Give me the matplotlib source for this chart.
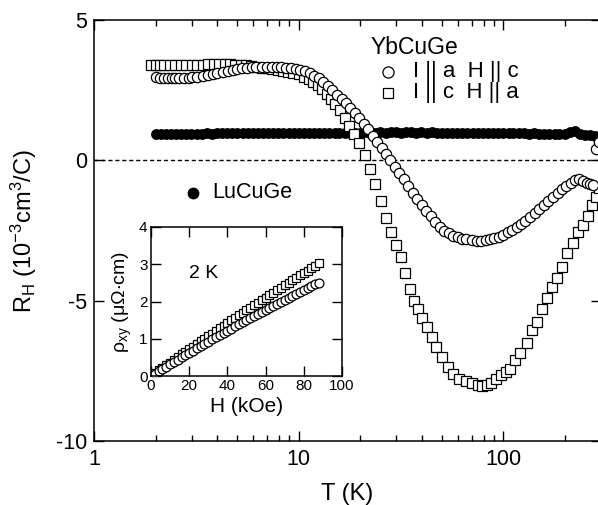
import matplotlib
matplotlib.use("Agg")
import matplotlib.pyplot as plt

plt.rcParams["font.family"] = ["Liberation Sans", "DejaVu Sans"]
plt.rcParams["mathtext.fontset"] = "custom"
plt.rcParams["mathtext.rm"] = "Liberation Sans"
plt.rcParams["mathtext.default"] = "regular"
plt.rcParams["axes.unicode_minus"] = False

# LuCuGe
T_lu = [2.00, 2.12, 2.24, 2.38, 2.52, 2.67, 2.83, 2.99, 3.17, 3.36,
        3.56, 3.77, 3.99, 4.23, 4.48, 4.74, 5.02, 5.32, 5.64, 5.97,
        6.32, 6.70, 7.10, 7.52, 7.96, 8.43, 8.93, 9.46, 10.0, 10.6,
        11.2, 11.9, 12.6, 13.3, 14.1, 15.0, 15.8, 16.8, 17.8, 18.8,
        19.9, 21.1, 22.4, 23.7, 25.1, 26.6, 28.2, 29.9, 31.6, 33.5,
        35.5, 37.6, 39.8, 42.2, 44.7, 47.3, 50.1, 53.1, 56.2, 59.6,
        63.1, 66.8, 70.8, 75.0, 79.4, 84.1, 89.1, 94.4, 100, 106,
        112, 119, 126, 133, 141, 150, 158, 168, 178, 188,
        200, 211, 224, 237, 251, 266, 282, 290]
R_lu = [0.93, 0.93, 0.94, 0.93, 0.94, 0.94, 0.95, 0.94, 0.95, 0.95,
        0.96, 0.95, 0.96, 0.96, 0.97, 0.96, 0.97, 0.97, 0.96, 0.97,
        0.97, 0.98, 0.97, 0.97, 0.98, 0.97, 0.98, 0.98, 0.97, 0.98,
        0.98, 0.97, 0.98, 0.98, 0.99, 0.98, 0.98, 0.99, 0.98, 0.99,
        0.99, 1.00, 0.99, 0.99, 1.00, 0.99, 1.00, 1.00, 0.99, 1.00,
        1.00, 0.99, 1.00, 0.99, 1.00, 0.99, 0.99, 0.98, 0.99, 0.98,
        0.99, 0.98, 0.98, 0.97, 0.98, 0.97, 0.98, 0.97, 0.97, 0.96,
        0.97, 0.96, 0.96, 0.95, 0.96, 0.95, 0.95, 0.94, 0.95, 0.94,
        0.94, 1.02, 1.05, 0.93, 0.92, 0.90, 0.86, 0.84]

# YbCuGe, I || a, H || c
T_a = [2.0, 2.1, 2.2, 2.3, 2.4, 2.5, 2.6, 2.75, 2.9, 3.0,
       3.2, 3.4, 3.6, 3.8, 4.0, 4.25, 4.5, 4.75, 5.0, 5.3,
       5.6, 5.9, 6.2, 6.6, 7.0, 7.4, 7.8, 8.2, 8.7, 9.2,
       9.7, 10.2, 10.7, 11.3, 11.9, 12.5, 13.2, 13.9, 14.6, 15.4,
       16.2, 17.0, 17.9, 18.8, 19.8, 20.8, 21.9, 23.0, 24.2, 25.4,
       26.7, 28.0, 29.5, 31.0, 32.6, 34.3, 36.0, 38.0, 40.0, 42.0,
       44.2, 46.5, 49.0, 51.5, 54.0, 57.0, 60.0, 63.0, 66.0, 70.0,
       74.0, 78.0, 82.0, 86.0, 90.0, 95.0, 100, 105, 110, 116,
       122, 128, 135, 142, 150, 158, 166, 175, 184, 193,
       203, 213, 225, 235, 245, 255, 265, 275, 285, 292]
R_a = [2.98, 2.95, 2.95, 2.93, 2.93, 2.92, 2.93, 2.95, 2.95, 2.96,
       2.97, 3.00, 3.03, 3.08, 3.12, 3.16, 3.20, 3.23, 3.26, 3.28,
       3.30, 3.31, 3.32, 3.33, 3.33, 3.33, 3.32, 3.31, 3.30, 3.28,
       3.25, 3.22, 3.17, 3.10, 3.02, 2.92, 2.80, 2.66, 2.50, 2.34,
       2.20, 2.05, 1.88, 1.70, 1.50, 1.30, 1.10, 0.88, 0.66, 0.44,
       0.22, 0.00, -0.22, -0.44, -0.68, -0.92, -1.15, -1.38, -1.60, -1.80,
       -2.00, -2.20, -2.36, -2.50, -2.60, -2.68, -2.74, -2.79, -2.82, -2.85,
       -2.87, -2.87, -2.85, -2.82, -2.78, -2.72, -2.65, -2.57, -2.48, -2.38,
       -2.27, -2.15, -2.02, -1.88, -1.74, -1.60, -1.45, -1.30, -1.15, -1.02,
       -0.90, -0.80, -0.70, -0.65, -0.72, -0.80, -0.86, -0.88, 0.40, 0.65]

# YbCuGe, I || c, H || a
T_c = [1.9, 2.0, 2.1, 2.2, 2.35, 2.5, 2.65, 2.8, 3.0, 3.2,
       3.4, 3.6, 3.85, 4.1, 4.35, 4.6, 4.9, 5.2, 5.5, 5.85,
       6.2, 6.6, 7.0, 7.4, 7.9, 8.4, 8.9, 9.4, 10.0, 10.6,
       11.2, 11.8, 12.4, 13.0, 13.7, 14.4, 15.1, 15.9, 16.8, 17.7,
       18.7, 19.8, 21.0, 22.3, 23.7, 25.2, 26.7, 28.3, 30.0, 31.5,
       33.0, 34.9, 36.5, 38.2, 40.2, 42.4, 44.6, 47.0, 50.0, 53.5,
       57.0, 61.0, 65.5, 70.5, 75.0, 79.0, 83.0, 87.0, 92.0, 97.5,
       103, 108, 114, 121, 130, 138, 146, 155, 164, 173,
       182, 193, 205, 218, 232, 246, 258, 270, 283, 292]
R_c = [3.38, 3.38, 3.38, 3.38, 3.39, 3.39, 3.40, 3.40, 3.40, 3.40,
       3.41, 3.42, 3.42, 3.42, 3.42, 3.42, 3.41, 3.40, 3.38, 3.36,
       3.33, 3.30, 3.28, 3.25, 3.22, 3.19, 3.16, 3.12, 3.06, 2.98,
       2.90, 2.80, 2.68, 2.55, 2.38, 2.20, 2.00, 1.78, 1.50, 1.22,
       0.95, 0.62, 0.20, -0.30, -0.85, -1.45, -2.05, -2.55, -3.00, -3.45,
       -4.00, -4.60, -5.00, -5.30, -5.60, -5.95, -6.30, -6.65, -7.00, -7.35,
       -7.60, -7.80, -7.88, -7.92, -8.00, -8.05, -8.00, -7.95, -7.80, -7.65,
       -7.55, -7.45, -7.10, -6.85, -6.50, -6.05, -5.75, -5.30, -4.90, -4.50,
       -4.20, -3.80, -3.30, -2.95, -2.55, -2.30, -2.00, -1.60, -1.30, -1.00]

# inset: rho_xy at 2 K
H_in = [0, 2, 4, 6, 8, 10, 12, 14, 16, 18, 20, 22, 24, 26, 28, 30, 32, 34, 36, 38,
        40, 42, 44, 46, 48, 50, 52, 54, 56, 58, 60, 62, 64, 66, 68, 70, 72, 74, 76, 78,
        80, 82, 84, 86, 88]
rho_a = [0.00, 0.06, 0.13, 0.19, 0.25, 0.32, 0.38, 0.44, 0.50, 0.56,
         0.62, 0.68, 0.74, 0.80, 0.86, 0.92, 0.98, 1.04, 1.10, 1.16,
         1.21, 1.27, 1.33, 1.39, 1.44, 1.50, 1.55, 1.61, 1.67, 1.72,
         1.78, 1.83, 1.89, 1.94, 1.99, 2.04, 2.10, 2.15, 2.20, 2.26,
         2.31, 2.36, 2.41, 2.46, 2.51]
rho_c = [0.00, 0.07, 0.15, 0.22, 0.29, 0.36, 0.43, 0.51, 0.58, 0.65,
         0.72, 0.79, 0.86, 0.93, 1.00, 1.07, 1.14, 1.21, 1.28, 1.35,
         1.42, 1.49, 1.56, 1.63, 1.70, 1.77, 1.83, 1.90, 1.97, 2.04,
         2.10, 2.17, 2.24, 2.30, 2.37, 2.44, 2.50, 2.57, 2.63, 2.70,
         2.77, 2.83, 2.90, 2.96, 3.03]

W, H = 598, 505


def fx(px):
    return px / W


def fy(py):
    return 1 - py / H


fig = plt.figure(figsize=(W / 100, H / 100), dpi=100)
ax = fig.add_axes([fx(94), fy(441), fx(601) - fx(94), fy(20) - fy(441)])

ax.axhline(0, color="black", lw=1.0, ls=(0, (3, 2)), zorder=1)
ax.plot(T_lu, R_lu, "o", color="black", ms=7.8, mew=0, zorder=2)
ax.plot(T_c, R_c, "s", mfc="white", mec="black", ms=7.2, mew=0.9, zorder=3)
ax.plot(T_a, R_a, "o", mfc="white", mec="black", ms=7.4, mew=0.9, zorder=4)

ax.set_xscale("log")
ax.set_xlim(1, 300)
ax.set_ylim(-10, 5)
ax.set_yticks([-10, -5, 0, 5])
ax.set_xticks([1, 10, 100])
ax.set_xticklabels(["1", "10", "100"])
ax.tick_params(which="both", direction="in", top=True, right=True, width=1.0)
ax.tick_params(which="major", length=7.5, labelsize=15.5, pad=6)
ax.tick_params(axis="y", which="major", pad=5)
ax.tick_params(which="minor", length=4.5)
for s in ax.spines.values():
    s.set_linewidth(1.1)

ax.set_xlabel("T (K)", fontsize=17)
ax.xaxis.set_label_coords(0.5, -0.1)
ax.set_ylabel(r"R$_H$ (10$^{-3}$cm$^3$/C)", fontsize=17)
ax.yaxis.set_label_coords(-0.108, 0.5)

# legend, drawn by hand
fig.text(fx(371), fy(47), "YbCuGe", fontsize=16.5, va="center", ha="left")
ax.plot([fx(388)], [fy(72)], "o", mfc="white", mec="black", ms=8, mew=0.9,
        transform=fig.transFigure, clip_on=False)
fig.text(fx(413), fy(72), "I || a  H || c", fontsize=16, va="center", ha="left")
ax.plot([fx(388)], [fy(93)], "s", mfc="white", mec="black", ms=7.5, mew=0.9,
        transform=fig.transFigure, clip_on=False)
fig.text(fx(413), fy(93), "I || c  H || a", fontsize=16, va="center", ha="left")

ax.plot([fx(193)], [fy(193)], "o", color="black", ms=8.5, mew=0,
        transform=fig.transFigure, clip_on=False)
fig.text(fx(212), fy(193), "LuCuGe", fontsize=15.5, va="center", ha="left")

# inset
ins = fig.add_axes([fx(151), fy(376), fx(342) - fx(151), fy(227) - fy(376)])
ins.plot(H_in, rho_c, "s", mfc="white", mec="black", ms=6.0, mew=0.9)
ins.plot(H_in, rho_a, "o", mfc="white", mec="black", ms=6.4, mew=0.9)
ins.set_xlim(0, 100)
ins.set_ylim(0, 4)
ins.set_xticks([0, 20, 40, 60, 80, 100])
ins.set_yticks([0, 1, 2, 3, 4])
ins.tick_params(direction="in", top=True, right=True, length=7, width=1.0,
                labelsize=11, pad=2.5)
for s in ins.spines.values():
    s.set_linewidth(1.1)
ins.set_xlabel("H (kOe)", fontsize=15)
ins.xaxis.set_label_coords(0.5, -0.14)
ins.set_ylabel(r"$\rho_{xy}$ ($\mu\Omega$$\cdot$cm)", fontsize=14)
ins.yaxis.set_label_coords(-0.09, 0.5)
ins.text(0.2, 0.69, "2 K", fontsize=14, transform=ins.transAxes, va="center")

fig.savefig("out.png", dpi=100)
